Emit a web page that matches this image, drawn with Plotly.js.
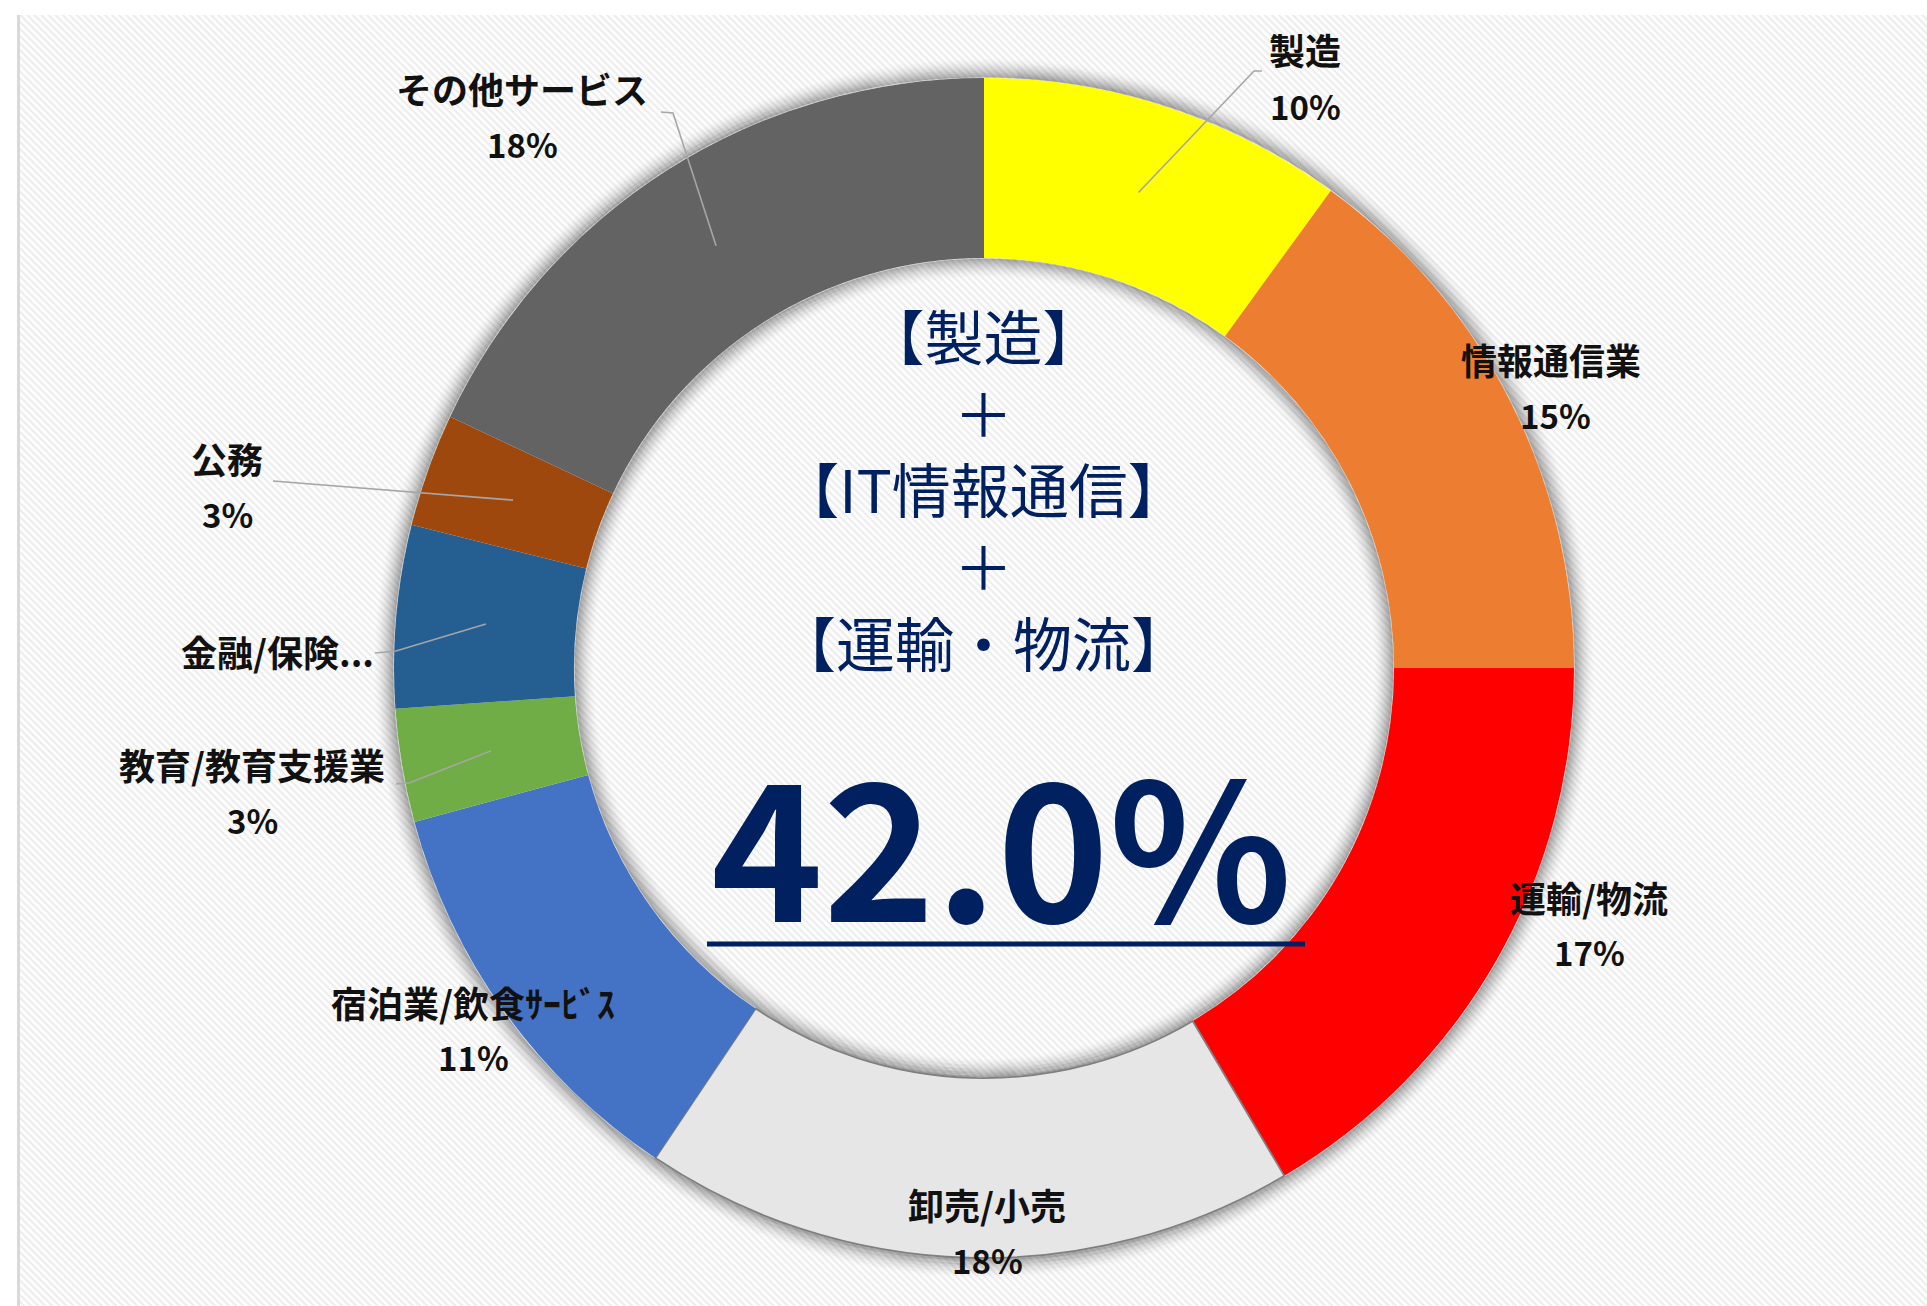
<!DOCTYPE html>
<html><head><meta charset="utf-8">
<script src="https://cdn.plot.ly/plotly-3.0.1.min.js"></script>
<style>
html,body{margin:0;padding:0;background:#fff;width:1927px;height:1306px;overflow:hidden;}
#frame{position:absolute;left:17px;top:15px;width:1910px;height:1291px;border-left:3px solid #d9d9d9;box-sizing:border-box;
background:repeating-linear-gradient(45deg,#ffffff 0px,#fbfbfb 1.5px,#e9e9e9 3px,#fbfbfb 4.5px,#ffffff 5px);}
#chart{position:absolute;left:0;top:0;width:1927px;height:1306px;}
</style></head><body>
<div id="frame"></div><div id="chart"></div>
<script>
// ---- data ----
const categories = ['製造','情報通信業','運輸/物流','卸売/小売','宿泊業/飲食ｻｰﾋﾞｽ','教育/教育支援業','金融/保険...','公務','その他サービス'];
const values = [10.0, 15.0, 16.5, 17.9, 11.4, 3.1, 5.0, 3.1, 18.0];
const showPct = [true, true, true, true, true, true, false, true, true];
const centerLines = ['【製造】','＋','【IT情報通信】','＋','【運輸・物流】'];
const highlightShare = 42.0; // 製造 + 情報通信 + 運輸/物流 (%)

// ---- style ----
const colors = ['#FFFF00','#ED7D31','#FF0000','#E7E6E6','#4472C4','#70AD47','#255E91','#9E480E','#636363'];
const lineW = [0,0,0,1.8,0,0,0,0,0];
const W = 1927, H = 1306, CX = 984, CY = 668, R = 590, HOLE = 0.695;
const labelPos = [
  {n:[1305,49],  p:[1305,106], lead:[[1254,71],[1262,71]]},
  {n:[1551,359], p:[1555,415], lead:null},
  {n:[1589,897], p:[1589,952], lead:null},
  {n:[987,1204], p:[987,1260], lead:null},
  {n:[473,1002], p:[473,1057], lead:null},
  {n:[252,764],  p:[252,820],  lead:[[409,783],[396,784]]},
  {n:[277,651],  p:null,       lead:[[396,651],[375,653]]},
  {n:[227,458],  p:[227,514],  lead:[[273,481]]},
  {n:[522,88],   p:[522,144],  lead:[[673,113],[661,112]]}
];
const centerBlockY = 488;

const px = x => x / W;
const py = y => 1 - y / H;
const total = values.reduce((a,b)=>a+b,0);

const annotations = [];
const shapes = [];
const nameFont = {family:'Noto Sans CJK JP, Noto Sans, sans-serif', size:36, color:'#111111', weight:'bold'};
const pctFont = {family:'Noto Sans CJK JP, Noto Sans, sans-serif', size:33, color:'#111111', weight:'bold'};

// shadows (outer and inner glow)
for (let k = 1; k <= 22; k++) {
  const a = 0.26 * Math.pow(1 - k/23, 2);
  [R + k, R*HOLE - k].forEach(r => {
    shapes.push({type:'circle', xref:'paper', yref:'paper', layer:'below',
      x0:px(CX - r), x1:px(CX + r), y0:py(CY + r), y1:py(CY - r),
      line:{color:'rgba(0,0,0,'+a.toFixed(4)+')', width:1.6}});
  });
}

// labels & leader lines
let cum = 0;
categories.forEach((c, i) => {
  const mid = (cum + values[i]/2) / total * 2 * Math.PI;
  cum += values[i];
  const lp = labelPos[i];
  annotations.push({xref:'paper', yref:'paper', x:px(lp.n[0]), y:py(lp.n[1]), text:c,
    showarrow:false, xanchor:'center', yanchor:'middle', font:nameFont});
  if (showPct[i] && lp.p) {
    annotations.push({xref:'paper', yref:'paper', x:px(lp.p[0]), y:py(lp.p[1]),
      text: Math.round(values[i]/total*100) + '%',
      showarrow:false, xanchor:'center', yanchor:'middle', font:pctFont});
  }
  if (lp.lead) {
    const rm = (R + R*HOLE) / 2;
    const sx = CX + rm * Math.sin(mid), sy = CY - rm * Math.cos(mid);
    let path = 'M' + px(sx) + ',' + py(sy);
    lp.lead.forEach(pt => { path += ' L' + px(pt[0]) + ',' + py(pt[1]); });
    shapes.push({type:'path', xref:'paper', yref:'paper', path:path, line:{color:'#a6a6a6', width:1.6}});
  }
});

// center text
annotations.push({xref:'paper', yref:'paper', x:px(CX), y:py(centerBlockY), text:centerLines.join('<br>'),
  showarrow:false, xanchor:'center', yanchor:'middle', align:'center',
  font:{family:'Noto Sans CJK JP, sans-serif', size:59, color:'#002060'}});
annotations.push({xref:'paper', yref:'paper', x:px(1001), y:py(839), text: highlightShare.toFixed(1) + '%',
  showarrow:false, xanchor:'center', yanchor:'middle',
  font:{family:'Noto Sans CJK JP, sans-serif', size:190, color:'#002060', weight:'bold'}});
shapes.push({type:'line', xref:'paper', yref:'paper', x0:px(707), x1:px(1305), y0:py(944), y1:py(944),
  line:{color:'#002060', width:5}});

const trace = {
  type:'pie', labels:categories, values:values, sort:false, direction:'clockwise', rotation:0,
  hole:HOLE, textinfo:'none', hoverinfo:'skip', showlegend:false,
  marker:{colors:colors, line:{color:'#7f7f7f', width:lineW}},
  domain:{x:[px(CX - R), px(CX + R)], y:[py(CY + R), py(CY - R)]}
};

Plotly.newPlot('chart', [trace], {
  width:W, height:H, margin:{l:0,r:0,t:0,b:0},
  paper_bgcolor:'rgba(0,0,0,0)', plot_bgcolor:'rgba(0,0,0,0)',
  annotations:annotations, shapes:shapes, showlegend:false
}, {displayModeBar:false, staticPlot:true});
</script>
</body></html>
